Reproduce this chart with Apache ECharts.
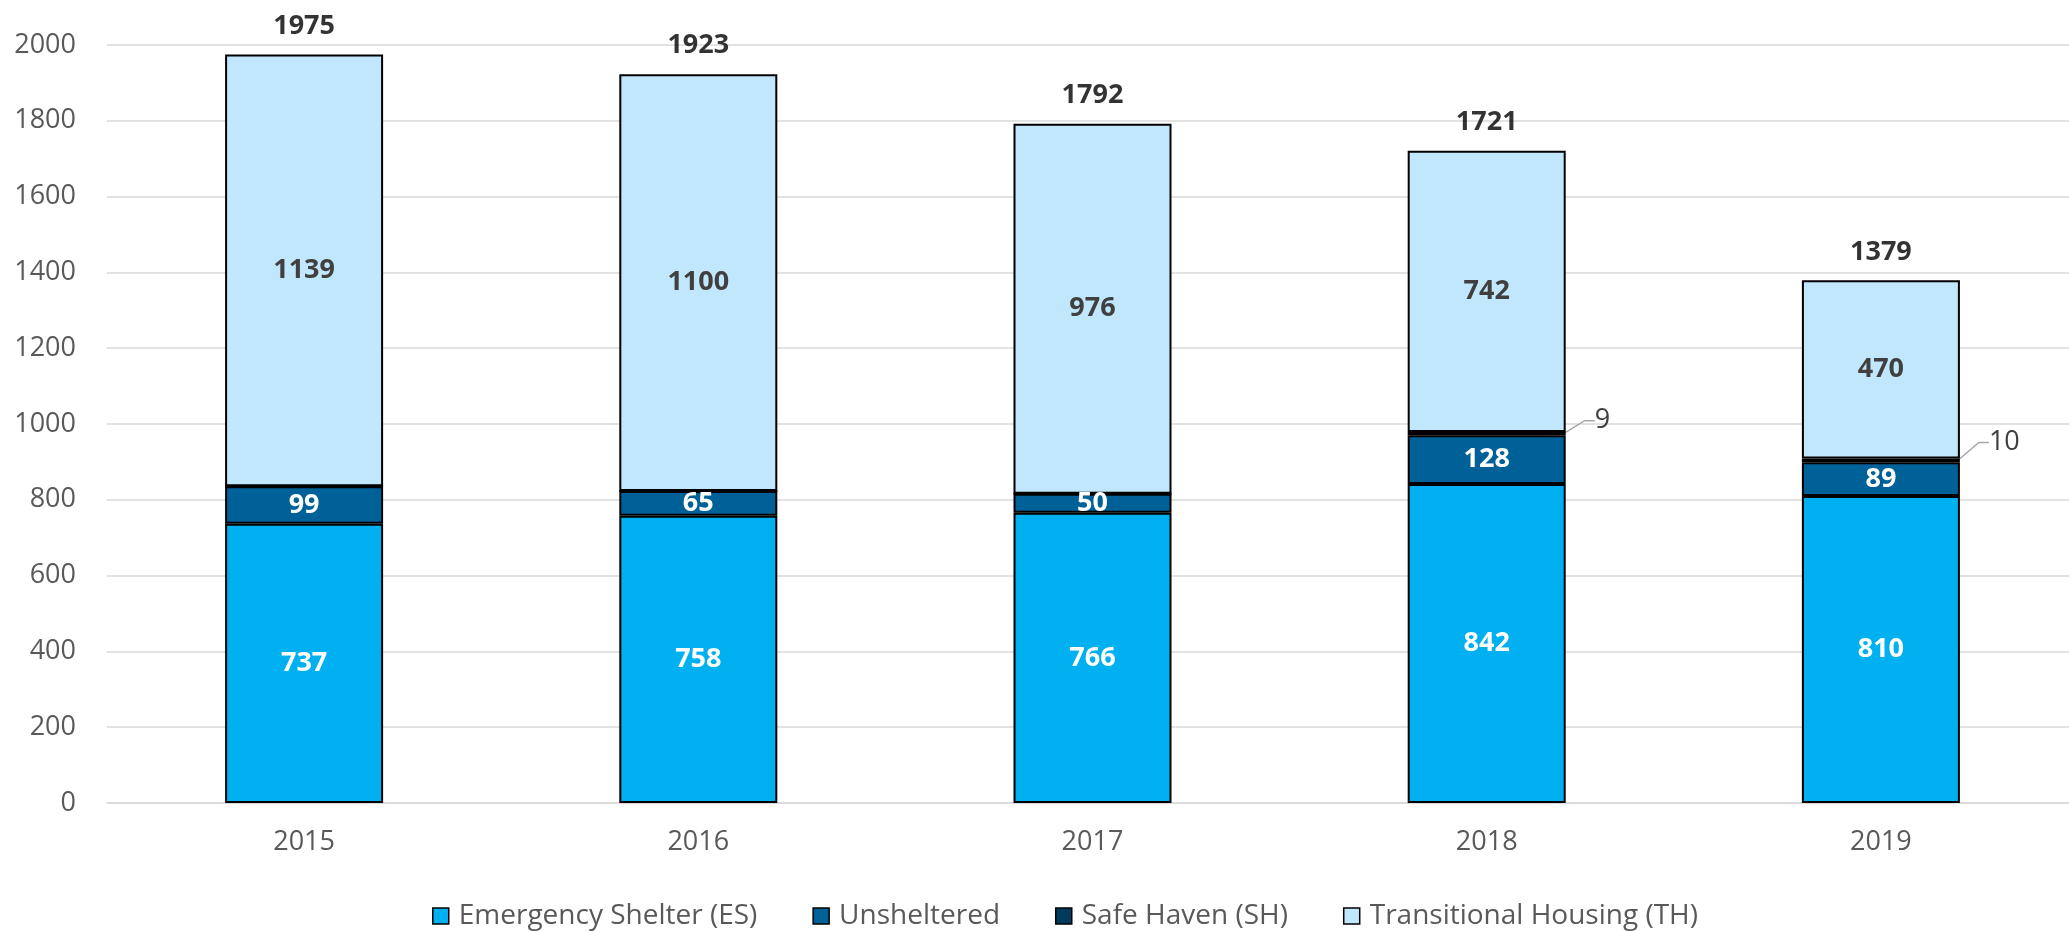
<!DOCTYPE html>
<html>
<head>
<meta charset="utf-8">
<script src="https://cdn.jsdelivr.net/npm/echarts@6/dist/echarts.min.js"></script>
<style>
html,body{margin:0;padding:0;background:#fff;overflow:hidden;}
#chart{width:2078px;height:931px;}
</style>
</head>
<body>
<div id="chart"></div>
<script>
var categories = ['2015', '2016', '2017', '2018', '2019'];
var emergencyShelter = [737, 758, 766, 842, 810];
var unsheltered = [99, 65, 50, 128, 89];
var safeHaven = [0, 0, 0, 9, 10];
var transitionalHousing = [1139, 1100, 976, 742, 470];
var yTicks = { min: 0, max: 2000, interval: 200 };
var seriesNames = ['Emergency Shelter (ES)', 'Unsheltered', 'Safe Haven (SH)', 'Transitional Housing (TH)'];

var totals = categories.map(function (c, i) {
  return emergencyShelter[i] + unsheltered[i] + safeHaven[i] + transitionalHousing[i];
});

var FONT = '"Open Sans", "Liberation Sans", sans-serif';
var colors = ['#00B0F0', '#006199', '#003A5D', '#C1E7FC'];

function barSeries(name, data, color, label) {
  return {
    name: name,
    type: 'bar',
    stack: 'total',
    barWidth: 158,
    data: data,
    itemStyle: { color: color, borderColor: '#000', borderWidth: 2 },
    label: label
  };
}

var shData = safeHaven.map(function (v) {
  return v === 0 ? { value: v, label: { show: false }, labelLine: { show: false } } : v;
});

var chart = echarts.init(document.getElementById('chart'));
chart.setOption({
  animation: false,
  textStyle: { fontFamily: FONT },
  grid: { left: 107, top: 45, right: 0, bottom: 128, containLabel: false },
  legend: {
    data: seriesNames,
    left: 427,
    top: 897,
    icon: 'rect',
    itemWidth: 16,
    itemHeight: 16,
    itemGap: 55,
    itemStyle: { borderColor: '#000', borderWidth: 1.5 },
    textStyle: { color: '#595959', fontSize: 28, fontFamily: FONT, padding: [0, 0, 0, 5] }
  },
  xAxis: {
    type: 'category',
    data: categories,
    axisTick: { show: false },
    axisLine: { lineStyle: { color: '#D9D9D9', width: 1.5 } },
    axisLabel: { color: '#595959', fontSize: 27, fontFamily: FONT, margin: 26 }
  },
  yAxis: {
    type: 'value',
    min: yTicks.min,
    max: yTicks.max,
    interval: yTicks.interval,
    axisLine: { show: false },
    axisTick: { show: false },
    splitLine: { lineStyle: { color: '#D9D9D9', width: 1.5 } },
    axisLabel: {
      color: '#595959', fontSize: 27, fontFamily: FONT, margin: 31,
      formatter: function (v) { return String(v); }
    }
  },
  series: [
    barSeries(seriesNames[0], emergencyShelter, colors[0],
      { show: true, position: 'inside', color: '#fff', fontWeight: 'bold', fontSize: 27, fontFamily: FONT }),
    barSeries(seriesNames[1], unsheltered, colors[1],
      { show: true, position: 'inside', color: '#fff', fontWeight: 'bold', fontSize: 27, fontFamily: FONT }),
    Object.assign(barSeries(seriesNames[2], shData, colors[2],
      { show: true, position: 'right', distance: 0, color: '#404040', fontSize: 27, fontFamily: FONT }), {
      labelLine: { show: true, lineStyle: { color: '#A6A6A6', width: 1.5 }, length2: 10 },
      labelLayout: function (params) {
        return { dx: 29, dy: params.dataIndex === 3 ? -13 : -18 };
      }
    }),
    barSeries(seriesNames[3], transitionalHousing, colors[3],
      { show: true, position: 'inside', color: '#404040', fontWeight: 'bold', fontSize: 27, fontFamily: FONT }),
    {
      name: 'Total',
      type: 'scatter',
      data: totals,
      symbolSize: 0,
      silent: true,
      label: { show: true, position: 'top', distance: 15, color: '#000', fontWeight: 'bold', fontSize: 27, fontFamily: FONT }
    }
  ]
});
</script>
</body>
</html>
